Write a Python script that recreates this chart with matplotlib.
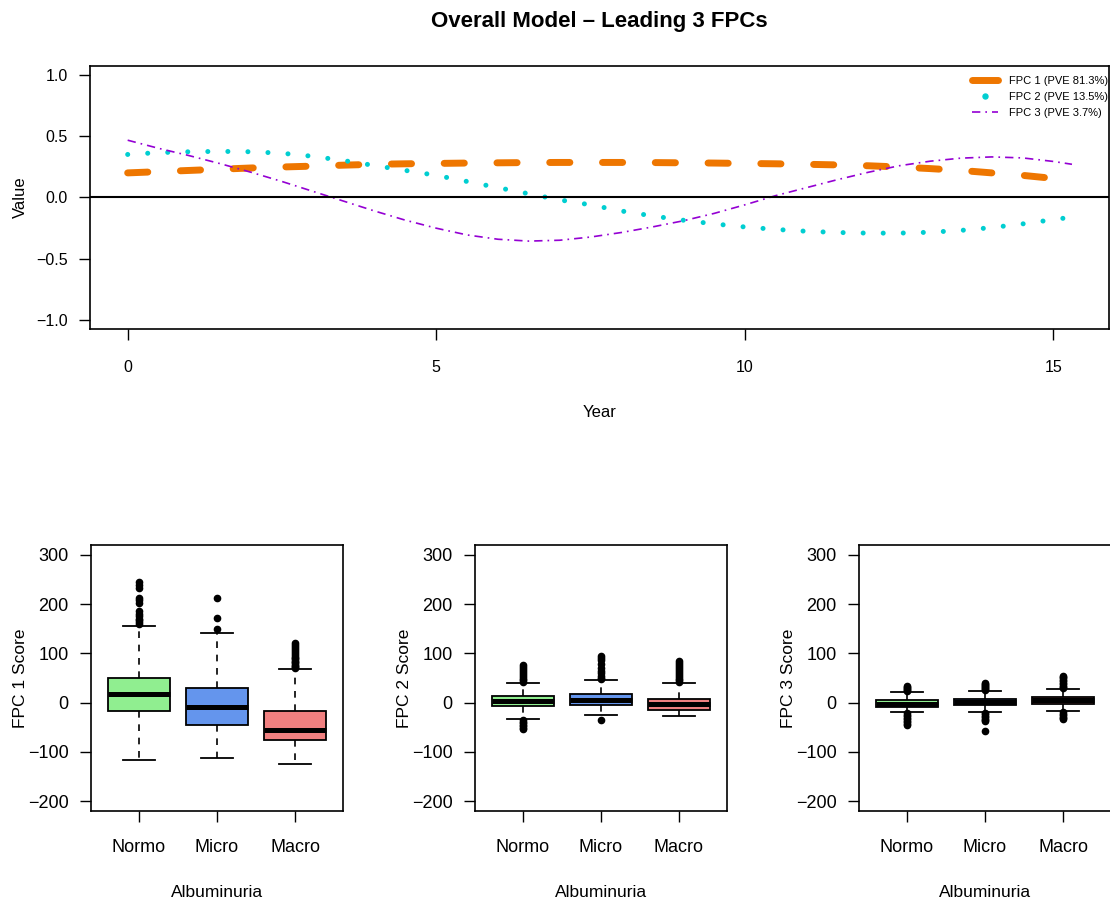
import numpy as np
import matplotlib.pyplot as plt
from matplotlib.lines import Line2D

plt.rcParams['font.family'] = ['Liberation Sans', 'DejaVu Sans']

# --- top panel: leading 3 eigenfunctions ---
years = [0, 0.5, 1, 1.5, 2, 2.5, 3, 3.5, 4, 4.5, 5, 5.5, 6, 6.5, 7, 7.5,
         8, 8.5, 9, 9.5, 10, 10.5, 11, 11.5, 12, 12.5, 13, 13.5, 14, 14.5, 15, 15.3]
fpc1 = [0.200, 0.210, 0.220, 0.230, 0.240, 0.248, 0.255, 0.263, 0.270, 0.274,
        0.277, 0.280, 0.282, 0.284, 0.285, 0.285, 0.285, 0.284, 0.282, 0.280,
        0.277, 0.274, 0.270, 0.265, 0.258, 0.248, 0.235, 0.220, 0.200, 0.180,
        0.155, 0.140]
fpc2 = [0.350, 0.365, 0.372, 0.375, 0.372, 0.360, 0.335, 0.300, 0.260, 0.220,
        0.180, 0.130, 0.080, 0.030, -0.020, -0.060, -0.110, -0.150, -0.185, -0.215,
        -0.240, -0.260, -0.275, -0.285, -0.290, -0.290, -0.283, -0.268, -0.245, -0.215,
        -0.180, -0.160]
fpc3 = [0.466, 0.400, 0.340, 0.275, 0.205, 0.130, 0.050, -0.030, -0.110, -0.185,
        -0.250, -0.305, -0.340, -0.355, -0.348, -0.322, -0.285, -0.240, -0.190, -0.130,
        -0.060, 0.015, 0.080, 0.145, 0.205, 0.258, 0.295, 0.320, 0.330, 0.322,
        0.293, 0.270]
pve = [81.3, 13.5, 3.7]

# --- bottom panels: FPC scores by albuminuria group ---
groups = ['Normo', 'Micro', 'Macro']
box_colors = ['#90EE90', '#6495ED', '#F08080']

s1_med = [18, -8, -55]
s1_q1 = [-18, -45, -75]
s1_q3 = [50, 30, -16]
s1_lo = [-116, -112, -125]
s1_hi = [156, 142, 69]
s1_fliers = [[160, 163, 167, 170, 175, 180, 185, 203, 208, 213, 232, 238, 244],
             [150, 172, 212],
             [71, 73, 75, 77, 80, 82, 85, 88, 90, 93, 96, 100, 104, 108, 112, 117, 122]]

s2_med = [4, 6, -3]
s2_q1 = [-6, -5, -14]
s2_q3 = [14, 17, 8]
s2_lo = [-33, -25, -27]
s2_hi = [40, 45, 40]
s2_fliers = [[42, 45, 48, 52, 56, 60, 64, 68, 72, 76, -36, -39, -42, -45, -48, -51, -54],
             [48, 51, 55, 60, 65, 70, 78, 86, 90, 95, -35],
             [42, 45, 48, 52, 56, 60, 64, 68, 72, 76, 80, 84]]

s3_med = [-3, 2, 5]
s3_q1 = [-8, -5, -2]
s3_q3 = [5, 8, 12]
s3_lo = [-20, -19, -18]
s3_hi = [21, 24, 28]
s3_fliers = [[23, 25, 27, 29, 31, 33, -22, -25, -28, -31, -34, -37, -40, -43, -45],
             [26, 28, 30, 32, 34, 36, 38, 40, -21, -24, -27, -30, -33, -36, -38, -58],
             [30, 32, 34, 37, 40, 43, 46, 49, 52, 54, -20, -23, -26, -29, -31, -33]]

c1, c2, c3 = '#EE7600', '#00CED1', '#9400D3'

fig = plt.figure(figsize=(11.1, 9.1), dpi=100)

ax = fig.add_axes([0.0811, 0.6385, 0.918, 0.289])
ax.plot(years, fpc1, color=c1, lw=5, linestyle=(0, (2.9, 4.7)), dash_capstyle='round')
ax.plot(years, fpc2, color=c2, lw=3.6, linestyle=(0, (0.01, 4.0)), dash_capstyle='round')
ax.plot(years, fpc3, color=c3, lw=1.2, linestyle=(0, (5, 3, 1, 3)))
ax.axhline(0, color='black', lw=1.5)
ax.set_xlim(-0.61, 15.9)
ax.set_ylim(-1.07, 1.07)
ax.set_xticks([0, 5, 10, 15])
ax.set_yticks([-1.0, -0.5, 0.0, 0.5, 1.0])
ax.tick_params(direction='out', length=8, width=1, labelsize=11.5, pad=14)
ax.tick_params(axis='y', pad=8)
ax.set_xlabel('Year', fontsize=12, labelpad=22)
ax.set_ylabel('Value', fontsize=12, labelpad=6)
ax.set_title('Overall Model \u2013 Leading 3 FPCs', fontsize=16, fontweight='bold', pad=28)

handles = [Line2D([], [], color=c1, lw=5, solid_capstyle='round'),
           Line2D([], [], color=c2, lw=0, marker='o', markersize=3.6),
           Line2D([], [], color=c3, lw=1.2, linestyle=(0, (5, 3, 1, 3)))]
labels = ['FPC %d (PVE %.1f%%)' % (i + 1, p) for i, p in enumerate(pve)]
ax.legend(handles, labels, loc='upper right', bbox_to_anchor=(1.009, 1.0),
          frameon=False, fontsize=8, handlelength=2.3, handletextpad=1.0,
          borderaxespad=0.5, labelspacing=0.55)
for s in ax.spines.values():
    s.set_linewidth(1.2)

stats_all = [(s1_med, s1_q1, s1_q3, s1_lo, s1_hi, s1_fliers),
             (s2_med, s2_q1, s2_q3, s2_lo, s2_hi, s2_fliers),
             (s3_med, s3_q1, s3_q3, s3_lo, s3_hi, s3_fliers)]
lefts = [0.082, 0.4279, 0.7739]

for k, (med, q1, q3, lo, hi, fl) in enumerate(stats_all):
    bx = fig.add_axes([lefts[k], 0.1088, 0.227, 0.2923])
    stats = []
    for i in range(3):
        stats.append(dict(med=med[i], q1=q1[i], q3=q3[i], whislo=lo[i],
                          whishi=hi[i], fliers=fl[i]))
    bp = bx.bxp(stats, positions=[1, 2, 3], widths=0.8, capwidths=0.4,
                patch_artist=True, showfliers=True,
                boxprops=dict(edgecolor='black', lw=1.3),
                medianprops=dict(color='black', lw=3.6, solid_capstyle='butt'),
                whiskerprops=dict(color='black', lw=1.2, linestyle=(0, (4, 4))),
                capprops=dict(color='black', lw=1.3),
                flierprops=dict(marker='o', markerfacecolor='black',
                                markeredgecolor='black', markersize=4.5))
    for patch, c in zip(bp['boxes'], box_colors):
        patch.set_facecolor(c)
    bx.set_xlim(0.385, 3.615)
    bx.set_ylim(-220, 320)
    bx.set_yticks([-200, -100, 0, 100, 200, 300])
    bx.set_xticks([1, 2, 3])
    bx.set_xticklabels(groups)
    bx.tick_params(direction='out', length=8, width=1, labelsize=13, pad=12)
    bx.tick_params(axis='y', pad=8)
    bx.set_xlabel('Albuminuria', fontsize=12.5, labelpad=21)
    bx.set_ylabel('FPC %d Score' % (k + 1), fontsize=12.5, labelpad=0)
    for s in bx.spines.values():
        s.set_linewidth(1.2)

fig.savefig('out.png', dpi=100)
